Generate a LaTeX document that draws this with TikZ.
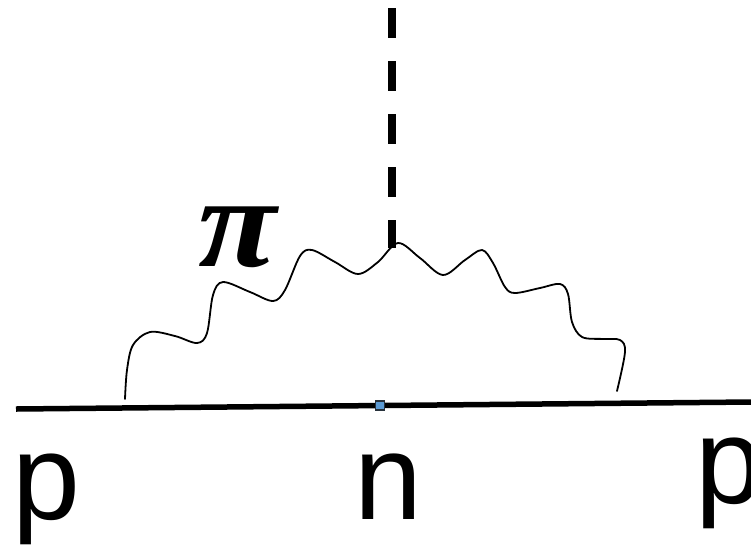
\documentclass[tikz,border=0pt]{standalone}
\usepackage{fontspec}
\newfontfamily\labelfont{Liberation Sans}
\newfontfamily\pifont{Liberation Serif}
\definecolor{vtxfill}{RGB}{91,155,213}
\definecolor{vtxdraw}{RGB}{40,50,60}
\begin{document}
\begin{tikzpicture}[x=1pt,y=-1pt,
  fermion/.style={line width=5.5pt},
  scalar/.style={line width=7.5pt,dash pattern=on 30pt off 23pt},
  pion/.style={line width=1.8pt,line cap=round,line join=round},
  vtx/.style={draw=vtxdraw,fill=vtxfill,line width=1.3pt,minimum size=9pt,inner sep=0pt,rectangle},
  lbl/.style={font=\labelfont\fontsize{122}{130}\selectfont,inner sep=0pt,anchor=base},
  pilbl/.style={font=\pifont\bfseries\itshape\fontsize{130}{140}\selectfont,inner sep=0pt,anchor=base,xscale=1.1}]
\useasboundingbox (0,0) rectangle (751,547);
% coordinates
\coordinate (fin) at (16,409);
\coordinate (fout) at (751,402);
\coordinate (stop) at (392,8);
\coordinate (sbot) at (392,248);
\coordinate (ws) at (125,399);
\coordinate (we) at (617,391);
% fermion line
\draw[fermion] (fin) -- (fout);
% scalar (dashed) line
\draw[scalar] (stop) -- (sbot);
% pion wavy line
\draw[pion] plot[smooth,tension=0.55] coordinates {
 (ws) (127,370) (133,345) (150,332) (175,336) (197,343) (207,333) (213,295)
 (223,282) (250,292) (273,301) (285,290) (300,256) (312,250) (335,262)
 (358,274) (378,262) (398,243) (420,258) (443,275) (465,260) (482,250)
 (493,263) (505,287) (515,293) (540,288) (560,284) (568,294) (572,322)
 (582,337) (603,339) (620,340) (625,352) (we)};
% vertex
\node[vtx] (v) at (380,405.5) {};
% labels
\node[lbl] (lp1) at (46,519) {p};
\node[lbl] (ln) at (388,519) {n};
\node[lbl] (lp2) at (729,503) {p};
\node[pilbl] (pi) at (238,266) {π};
\end{tikzpicture}
\end{document}
